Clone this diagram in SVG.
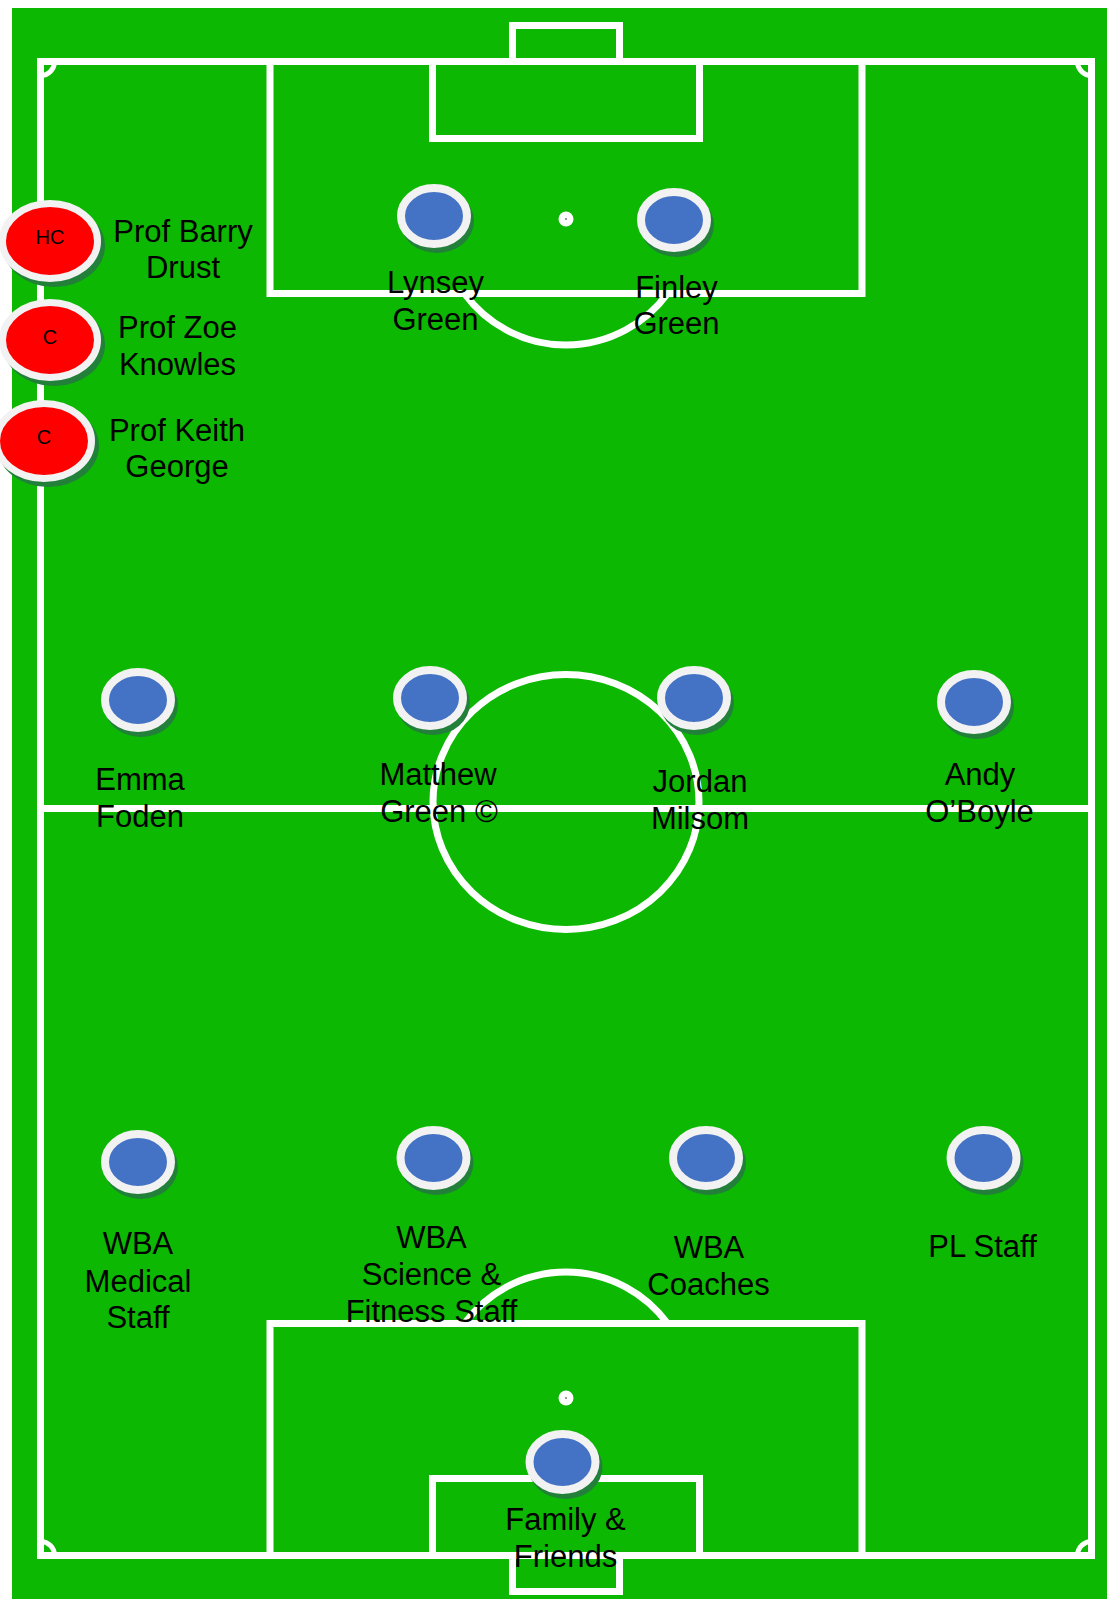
<svg xmlns="http://www.w3.org/2000/svg" width="1107" height="1599" viewBox="0 0 1107 1599">
<style>
.line{fill:none;stroke:#ffffff;stroke-width:7}
.corner{fill:none;stroke:#ffffff;stroke-width:5}
.shadow{fill:#22803a}
.player{fill:#4472c4;stroke:#f2f2f2;stroke-width:8}
.coach{fill:#ff0000;stroke:#f2f2f2;stroke-width:7}
.lbl{font-family:"Liberation Sans",Arial,sans-serif;font-size:31px;fill:#000000;text-anchor:middle}
.role{font-family:"Liberation Sans",Arial,sans-serif;font-size:20px;fill:#000000;text-anchor:middle}
</style>
<rect x="0" y="0" width="1107" height="1599" fill="#ffffff"/>
<g id="pitch">
<rect x="12" y="8" width="1095" height="1591" fill="#0cb802"/>
<rect class="line" x="40.5" y="61.5" width="1051" height="1494"/>
<line class="line" x1="40.5" y1="808.5" x2="1091.5" y2="808.5"/>
<ellipse class="line" cx="566" cy="802" rx="133" ry="127.5" stroke-width="6.5"/>
<path class="line" d="M512.5 61.5 V25.5 H619.5 V61.5"/>
<rect class="line" x="432.5" y="61.5" width="267" height="77"/>
<rect class="line" x="270" y="61.5" width="592" height="232"/>
<path class="line" d="M464.4 293.5 A126 126 0 0 0 667.6 293.5"/>
<circle cx="566" cy="219" r="7.5" fill="#ffffff"/>
<circle cx="566" cy="219" r="1" fill="#7a7a7a"/>
<path class="line" d="M512.5 1555.5 V1591.5 H619.5 V1555.5"/>
<rect class="line" x="432.5" y="1478.5" width="267" height="77"/>
<rect class="line" x="270" y="1323.5" width="592" height="232"/>
<path class="line" d="M464.4 1323.5 A126 126 0 0 1 667.6 1323.5"/>
<circle cx="566" cy="1398" r="7.5" fill="#ffffff"/>
<circle cx="566" cy="1398" r="1" fill="#7a7a7a"/>
<path class="corner" d="M54.5 61.5 A14 14 0 0 1 40.5 75.5"/>
<path class="corner" d="M1077.5 61.5 A14 14 0 0 0 1091.5 75.5"/>
<path class="corner" d="M40.5 1541.5 A14 14 0 0 1 54.5 1555.5"/>
<path class="corner" d="M1091.5 1541.5 A14 14 0 0 0 1077.5 1555.5"/>
</g>
<g id="connectors"></g>
<g id="node-barry-drust">
<ellipse class="shadow" cx="54" cy="246" rx="51" ry="41"/>
<ellipse class="coach" cx="50" cy="241" rx="47.5" ry="37.5"/>
<text class="role" x="50" y="244">HC</text>
<text class="lbl" x="183" y="242">Prof Barry</text>
<text class="lbl" x="183" y="278">Drust</text>
</g>
<g id="node-zoe-knowles">
<ellipse class="shadow" cx="54" cy="345" rx="51" ry="41"/>
<ellipse class="coach" cx="50" cy="340" rx="47.5" ry="37.5"/>
<text class="role" x="50" y="344">C</text>
<text class="lbl" x="177.5" y="338">Prof Zoe</text>
<text class="lbl" x="177.5" y="375">Knowles</text>
</g>
<g id="node-keith-george">
<ellipse class="shadow" cx="48" cy="446" rx="51" ry="41"/>
<ellipse class="coach" cx="44" cy="441" rx="47.5" ry="37.5"/>
<text class="role" x="44" y="444">C</text>
<text class="lbl" x="177" y="441">Prof Keith</text>
<text class="lbl" x="177" y="477">George</text>
</g>
<g id="node-lynsey-green">
<ellipse class="shadow" cx="437" cy="221" rx="37" ry="32"/>
<ellipse class="player" cx="434" cy="216" rx="33" ry="28"/>
<text class="lbl" x="435.5" y="293">Lynsey</text>
<text class="lbl" x="435.5" y="330">Green</text>
</g>
<g id="node-finley-green">
<ellipse class="shadow" cx="677" cy="225" rx="37" ry="32"/>
<ellipse class="player" cx="674" cy="220" rx="33" ry="28"/>
<text class="lbl" x="676.5" y="297.5">Finley</text>
<text class="lbl" x="676.5" y="334">Green</text>
</g>
<g id="node-emma-foden">
<ellipse class="shadow" cx="141" cy="705" rx="37" ry="32"/>
<ellipse class="player" cx="138" cy="700" rx="33" ry="28"/>
<text class="lbl" x="140" y="790">Emma</text>
<text class="lbl" x="140" y="826.5">Foden</text>
</g>
<g id="node-matthew-green">
<ellipse class="shadow" cx="433" cy="703" rx="37" ry="32"/>
<ellipse class="player" cx="430" cy="698" rx="33" ry="28"/>
<text class="lbl" x="438" y="785">Matthew</text>
<text class="lbl" x="439" y="821.5">Green ©</text>
</g>
<g id="node-jordan-milsom">
<ellipse class="shadow" cx="697" cy="703" rx="37" ry="32"/>
<ellipse class="player" cx="694" cy="698" rx="33" ry="28"/>
<text class="lbl" x="700" y="791.5">Jordan</text>
<text class="lbl" x="700" y="829">Milsom</text>
</g>
<g id="node-andy-oboyle">
<ellipse class="shadow" cx="977" cy="707" rx="37" ry="32"/>
<ellipse class="player" cx="974" cy="702" rx="33" ry="28"/>
<text class="lbl" x="980" y="785">Andy</text>
<text class="lbl" x="979.5" y="821.5">O’Boyle</text>
</g>
<g id="node-wba-medical">
<ellipse class="shadow" cx="141" cy="1167" rx="37" ry="32"/>
<ellipse class="player" cx="138" cy="1162" rx="33" ry="28"/>
<text class="lbl" x="138" y="1254">WBA</text>
<text class="lbl" x="138" y="1291.5">Medical</text>
<text class="lbl" x="138" y="1328">Staff</text>
</g>
<g id="node-wba-science">
<ellipse class="shadow" cx="436.5" cy="1163" rx="37" ry="32"/>
<ellipse class="player" cx="433.5" cy="1158" rx="33" ry="28"/>
<text class="lbl" x="431.5" y="1247.5">WBA</text>
<text class="lbl" x="431.5" y="1285">Science &amp;</text>
<text class="lbl" x="431.5" y="1321.5">Fitness Staff</text>
</g>
<g id="node-wba-coaches">
<ellipse class="shadow" cx="709" cy="1163" rx="37" ry="32"/>
<ellipse class="player" cx="706" cy="1158" rx="33" ry="28"/>
<text class="lbl" x="709" y="1258">WBA</text>
<text class="lbl" x="708.5" y="1295">Coaches</text>
</g>
<g id="node-pl-staff">
<ellipse class="shadow" cx="986.5" cy="1163" rx="37" ry="32"/>
<ellipse class="player" cx="983.5" cy="1158" rx="33" ry="28"/>
<text class="lbl" x="982.5" y="1256.5">PL Staff</text>
</g>
<g id="node-family-friends">
<ellipse class="shadow" cx="565.5" cy="1467" rx="37" ry="32"/>
<ellipse class="player" cx="562.5" cy="1462" rx="33" ry="28"/>
<text class="lbl" x="565.5" y="1530">Family &amp;</text>
<text class="lbl" x="565.5" y="1566.5">Friends</text>
</g>
</svg>
